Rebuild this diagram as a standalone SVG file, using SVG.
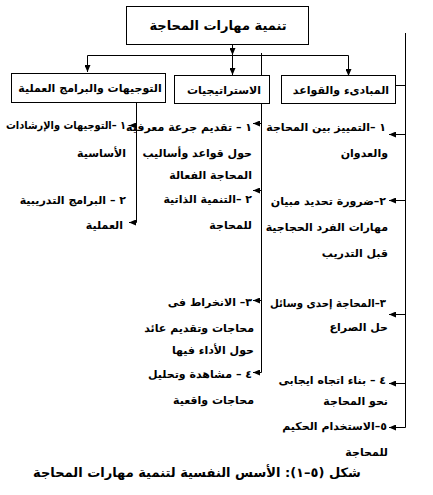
<svg xmlns="http://www.w3.org/2000/svg" width="433" height="495" viewBox="0 0 433 495">
<style>
text{font-family:"DejaVu Sans","Noto Sans",sans-serif;font-weight:bold;fill:#000;font-size:11px}
.t{text-anchor:end}
.c{text-anchor:middle}
.box{fill:#fff;stroke:#000;stroke-width:1}
.ln{fill:none;stroke:#000;stroke-width:1}
</style>
<defs>
<marker id="ah" markerWidth="7" markerHeight="6" refX="7" refY="3" orient="auto" markerUnits="userSpaceOnUse">
<path d="M0,0 L7,3 L0,6 Z" fill="#000"/>
</marker>
</defs>
<g id="connectors">
<path class="ln" d="M232.5,44 V55" marker-end="url(#ah)"/>
<path class="ln" d="M87.5,55.5 H348.5"/>
<path class="ln" d="M87.5,55.5 V72" marker-end="url(#ah)"/>
<path class="ln" d="M232.5,55.5 V75" marker-end="url(#ah)"/>
<path class="ln" d="M348.5,55.5 V76" marker-end="url(#ah)"/>
<path class="ln" d="M261.5,53 V372.5"/>
<path class="ln" d="M405.5,33 V427.5"/>
<path class="ln" d="M396,85.5 H405.5"/>
<path class="ln" d="M136.5,102 V222.5"/>
<path class="ln" d="M405.5,134.5 H389" marker-end="url(#ah)"/>
<path class="ln" d="M405.5,200.5 H389" marker-end="url(#ah)"/>
<path class="ln" d="M405.5,314.5 H389" marker-end="url(#ah)"/>
<path class="ln" d="M405.5,383.5 H389" marker-end="url(#ah)"/>
<path class="ln" d="M405.5,427.5 H389" marker-end="url(#ah)"/>
<path class="ln" d="M261.5,123.5 H253" marker-end="url(#ah)"/>
<path class="ln" d="M261.5,190.5 H253" marker-end="url(#ah)"/>
<path class="ln" d="M261.5,300.5 H253" marker-end="url(#ah)"/>
<path class="ln" d="M261.5,372.5 H253" marker-end="url(#ah)"/>
<path class="ln" d="M136.5,125.5 H129" marker-end="url(#ah)"/>
<path class="ln" d="M136.5,222.5 H129" marker-end="url(#ah)"/>
</g>
<g id="root">
<rect class="box" x="126.5" y="6.5" width="182" height="38"/>
<text class="c" x="218" y="30" style="font-size:13px">تنمية مهارات المحاجة</text>
</g>
<g id="guidance">
<rect class="box" x="11.5" y="73.5" width="154" height="29"/>
<text class="c" x="90" y="92">التوجيهات والبرامج العملية</text>
</g>
<g id="strategies">
<rect class="box" x="174.5" y="75.5" width="95" height="28"/>
<text class="c" x="224" y="94">الاستراتيجيات</text>
</g>
<g id="principles">
<rect class="box" x="281.5" y="75.5" width="114" height="28"/>
<text class="c" x="341" y="94">المبادىء والقواعد</text>
</g>
<g id="principles-items">
<text class="t" x="386" y="131">١ –التمييز بين المحاجة</text>
<text class="t" x="388" y="157">والعدوان</text>
<text class="t" x="386" y="205">٢–ضرورة تحديد مبيان</text>
<text class="t" x="388" y="231">مهارات الفرد الحجاجية</text>
<text class="t" x="388" y="257">قبل التدريب</text>
<text class="t" x="386" y="307" textLength="116" lengthAdjust="spacingAndGlyphs">٣–المحاجة إحدى وسائل</text>
<text class="t" x="388" y="331">حل الصراع</text>
<text class="t" x="386" y="384">٤ – بناء اتجاه ايجابى</text>
<text class="t" x="388" y="405">نحو المحاجة</text>
<text class="t" x="387" y="430">٥–الاستخدام الحكيم</text>
<text class="t" x="388" y="456">للمحاجة</text>
</g>
<g id="strategies-items">
<text class="t" x="252" y="131">١ – تقديم جرعة معرفية</text>
<text class="t" x="252" y="157">حول قواعد وأساليب</text>
<text class="t" x="252" y="179">المحاجة الفعالة</text>
<text class="t" x="252" y="203">٢ –التنمية الذاتية</text>
<text class="t" x="252" y="229">للمحاجة</text>
<text class="t" x="252" y="306">٣– الانخراط فى</text>
<text class="t" x="254" y="332">محاجات وتقديم عائد</text>
<text class="t" x="254" y="354">حول الأداء فيها</text>
<text class="t" x="252" y="378">٤ – مشاهدة وتحليل</text>
<text class="t" x="254" y="404">محاجات واقعية</text>
</g>
<g id="guidance-items">
<text class="t" x="126" y="129" textLength="120" lengthAdjust="spacingAndGlyphs">١ –التوجيهات والإرشادات</text>
<text class="t" x="126" y="157">الأساسية</text>
<text class="t" x="126" y="204">٢ – البرامج التدريبية</text>
<text class="t" x="123" y="229">العملية</text>
</g>
<g id="caption">
<text class="c" x="197" y="477" style="font-size:13px">شكل (٥–١): الأسس النفسية لتنمية مهارات المحاجة</text>
</g>
</svg>
